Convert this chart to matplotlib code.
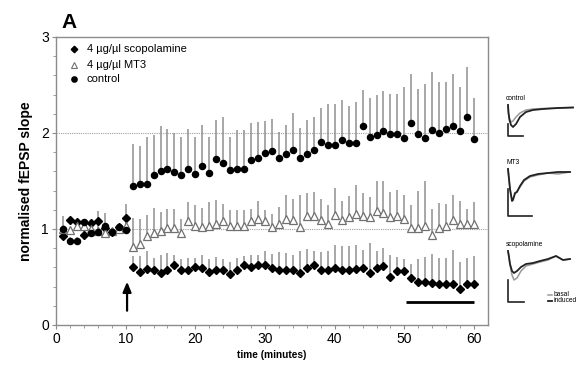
import numpy as np
import matplotlib
matplotlib.use("Agg")
import matplotlib.pyplot as plt

plt.rcParams['font.family'] = ['Liberation Sans', 'DejaVu Sans']

# ---------------- data ----------------
time = list(range(1, 61))

scop_vals = [0.93, 1.09, 1.07, 0.94, 1.06, 1.08, 1.01, 0.97, 1.02, 1.11,
             0.60, 0.55, 0.58, 0.57, 0.54, 0.57, 0.62, 0.57, 0.57, 0.60,
             0.59, 0.55, 0.57, 0.57, 0.53, 0.57, 0.625, 0.60, 0.62, 0.62,
             0.59, 0.57, 0.57, 0.57, 0.545, 0.59, 0.625, 0.57, 0.57, 0.59,
             0.57, 0.57, 0.58, 0.59, 0.545, 0.59, 0.61, 0.50, 0.56, 0.56,
             0.49, 0.45, 0.45, 0.44, 0.43, 0.43, 0.43, 0.38, 0.43, 0.43]
scop_top = [0.97, 1.12, 1.10, 0.98, 1.09, 1.11, 1.04, 1.00, 1.05, 1.14,
            0.72, 0.72, 0.77, 0.70, 0.73, 0.75, 0.73, 0.69, 0.70, 0.70,
            0.73, 0.69, 0.71, 0.69, 0.66, 0.70, 0.72, 0.73, 0.73, 0.77,
            0.74, 0.76, 0.75, 0.73, 0.77, 0.79, 0.77, 0.76, 0.77, 0.83,
            0.82, 0.82, 0.83, 0.78, 0.85, 0.77, 0.80, 0.73, 0.71, 0.69,
            0.64, 0.69, 0.71, 0.74, 0.70, 0.70, 0.78, 0.66, 0.70, 0.72]

mt3_vals = [1.00, 0.99, 1.03, 1.03, 1.00, 0.98, 0.96, 0.98, 1.00, 1.03,
            0.81, 0.84, 0.93, 0.96, 0.98, 1.01, 1.01, 0.96, 1.08, 1.03,
            1.02, 1.03, 1.05, 1.08, 1.03, 1.03, 1.03, 1.08, 1.10, 1.08,
            1.02, 1.05, 1.10, 1.09, 1.02, 1.14, 1.14, 1.09, 1.05, 1.15,
            1.09, 1.12, 1.16, 1.14, 1.12, 1.19, 1.17, 1.13, 1.14, 1.10,
            1.01, 1.01, 1.03, 0.94, 1.01, 1.03, 1.09, 1.05, 1.05, 1.05]
mt3_top = [1.03, 1.02, 1.06, 1.06, 1.03, 1.01, 0.99, 1.01, 1.03, 1.06,
           1.11, 1.10, 1.15, 1.22, 1.18, 1.21, 1.21, 1.10, 1.28, 1.25,
           1.22, 1.28, 1.30, 1.26, 1.20, 1.20, 1.20, 1.21, 1.29, 1.20,
           1.16, 1.23, 1.35, 1.31, 1.35, 1.38, 1.39, 1.31, 1.25, 1.43,
           1.29, 1.34, 1.46, 1.38, 1.33, 1.50, 1.50, 1.39, 1.41, 1.35,
           1.25, 1.40, 1.50, 1.21, 1.27, 1.26, 1.35, 1.29, 1.21, 1.28]

ctrl_vals = [1.00, 0.875, 0.875, 1.07, 0.96, 0.97, 1.03, 0.97, 1.02, 0.99,
             1.45, 1.47, 1.47, 1.56, 1.60, 1.63, 1.59, 1.56, 1.63, 1.57,
             1.66, 1.58, 1.73, 1.69, 1.61, 1.63, 1.63, 1.72, 1.74, 1.79,
             1.81, 1.74, 1.78, 1.82, 1.74, 1.78, 1.82, 1.91, 1.87, 1.87,
             1.93, 1.90, 1.90, 2.07, 1.96, 1.98, 2.02, 1.99, 1.99, 1.95,
             2.10, 1.99, 1.95, 2.03, 2.00, 2.04, 2.07, 2.02, 2.17, 1.94]
ctrl_top = [1.14, 0.92, 0.92, 1.10, 1.00, 1.19, 1.17, 1.00, 1.05, 1.26,
            1.89, 1.86, 1.96, 1.98, 2.07, 2.04, 2.00, 1.96, 2.04, 1.96,
            2.08, 1.96, 2.14, 2.17, 1.96, 2.03, 2.03, 2.10, 2.11, 2.13,
            2.15, 2.01, 2.08, 2.21, 2.05, 2.14, 2.17, 2.26, 2.30, 2.30,
            2.34, 2.28, 2.32, 2.45, 2.36, 2.40, 2.44, 2.41, 2.41, 2.48,
            2.61, 2.46, 2.51, 2.64, 2.53, 2.53, 2.61, 2.48, 2.69, 2.36]

legend_labels = ['4 \u00b5g/\u00b5l scopolamine', '4 \u00b5g/\u00b5l MT3', 'control']
x_ticks = [0, 10, 20, 30, 40, 50, 60]
y_ticks = [0, 1, 2, 3]

# example traces (x: px-like time units, y: px-like amplitude, down positive)
ctrl_trace_t = [0, 0.5, 1.5, 3, 5, 8, 12, 18, 25, 35, 50, 65]
ctrl_basal = [0, 8, 14, 17, 16, 12, 8, 5, 4, 3.5, 3, 2.5]
ctrl_induced = [0, 8, 15, 20, 22, 19, 12, 7, 5, 4, 3, 2.5]
mt3_trace_t = [0, 1, 2, 4, 5, 7, 9, 12, 16, 22, 30, 40, 50, 62]
mt3_basal = [0, 10, 20, 31, 30, 25, 22, 18, 12, 8, 6, 4, 5, 3]
mt3_induced = [0, 10, 20, 32, 31, 24, 23, 17, 11, 7, 5, 4, 3, 3]
scop_trace_t = [0, 1, 2, 4, 6, 9, 13, 18, 25, 32, 40, 48, 55, 62]
scop_basal = [0, 6, 14, 24, 29, 27, 20, 15, 13, 11, 9, 5, 9, 8]
scop_induced = [0, 6, 13, 20, 22, 20, 16, 13, 12, 10, 8, 5, 9, 8]

# ---------------- figure ----------------
W, H = 583, 365
fig = plt.figure(figsize=(W / 100, H / 100), dpi=100)
ax = fig.add_axes([56 / W, 1 - 325 / H, (488 - 56) / W, (325 - 37) / H])

grey = '#8c8c8c'
ax.axhline(1, color='#a0a0a0', lw=0.8, ls=(0, (1, 1)), zorder=1)
ax.axhline(2, color='#a0a0a0', lw=0.8, ls=(0, (1, 1)), zorder=1)

def err(vals, top):
    v = np.array(vals)
    t = np.array(top)
    return [np.zeros_like(v), np.clip(t - v, 0, None)]

for vals, top in [(ctrl_vals, ctrl_top), (mt3_vals, mt3_top), (scop_vals, scop_top)]:
    ax.errorbar(time, vals, yerr=err(vals, top), fmt='none', ecolor='#8f8f8f',
                elinewidth=1.1, capsize=0, zorder=2)

ax.plot(time, scop_vals, 'D', color='black', ms=3.8, zorder=4)
ax.plot(time, mt3_vals, '^', mfc='white', mec='#707070', mew=0.9, ms=5.3, zorder=4)
ax.plot(time, ctrl_vals, 'o', color='black', ms=4.4, zorder=4)

# legend
leg_y = [2.88, 2.71, 2.56]
ax.plot([2.6], [leg_y[0]], 'D', color='black', ms=3.3)
ax.plot([2.6], [leg_y[1]], '^', mfc='white', mec='#707070', mew=0.8, ms=4.5)
ax.plot([2.6], [leg_y[2]], 'o', color='black', ms=3.8)
for yy, lab in zip(leg_y, legend_labels):
    ax.text(4.4, yy, lab, fontsize=8, va='center', ha='left')

# arrow and bar
ax.annotate('', xy=(10.2, 0.48), xytext=(10.2, 0.12),
            arrowprops=dict(arrowstyle='-|>,head_width=0.25,head_length=0.6',
                            color='black', lw=1.6))
ax.plot([50.3, 60], [0.24, 0.24], color='black', lw=2.0, solid_capstyle='butt')

ax.set_xlim(0, 62)
ax.set_ylim(0, 3)
ax.set_xticks(x_ticks)
ax.set_xticks(np.arange(0, 62, 2), minor=True)
ax.set_yticks(y_ticks)
ax.set_yticks(np.arange(0, 3.01, 0.2), minor=True)
ax.tick_params(axis='both', which='major', labelsize=10, length=3, color=grey, width=0.8, pad=2)
ax.tick_params(axis='both', which='minor', length=2, color=grey, width=0.6)
for s in ax.spines.values():
    s.set_color(grey)
    s.set_linewidth(1.0)

ax.set_xlabel('time (minutes)', fontsize=7.3, fontweight='bold', labelpad=3)
ax.set_ylabel('normalised fEPSP slope', fontsize=10, fontweight='bold', labelpad=6)

fig.text(61 / W, 1 - 22 / H, 'A', fontsize=15, fontweight='bold', ha='left', va='center')

# ---------------- trace insets ----------------
def inset(x0, y0, w, h, label, tt, basal, induced, bar_h, bar_w, legend=False):
    a = fig.add_axes([x0 / W, 1 - (y0 + h) / H, w / W, h / H])
    a.set_xlim(0, w)
    a.set_ylim(h, 0)
    a.axis('off')
    a.text(3, 3, label, fontsize=4.8, ha='left', va='center')
    ox, oy = 5, 9
    a.plot(np.array(tt) + ox, np.array(basal) + oy, color='#999999', lw=1.1)
    a.plot(np.array(tt) + ox, np.array(induced) + oy, color='#222222', lw=1.3)
    bx, by = 5, h - 2
    a.plot([bx, bx, bx + bar_w], [by - bar_h, by, by], color='#222222', lw=1.2)
    if legend:
        a.plot([45, 49], [h - 9, h - 9], color='#999999', lw=1.1)
        a.plot([45, 49], [h - 3.5, h - 3.5], color='#222222', lw=1.3)
        a.text(51, h - 9, 'basal', fontsize=4.8, va='center')
        a.text(51, h - 3.5, 'induced', fontsize=4.8, va='center')
    return a

inset(503, 96, 78, 42, 'control', ctrl_trace_t, ctrl_basal, ctrl_induced, 12, 15)
inset(503, 160, 78, 58, 'MT3', mt3_trace_t, mt3_basal, mt3_induced, 27, 24)
inset(503, 242, 78, 62, 'scopolamine', scop_trace_t, scop_basal, scop_induced, 22, 16, legend=True)

fig.savefig('out.png', dpi=100)
